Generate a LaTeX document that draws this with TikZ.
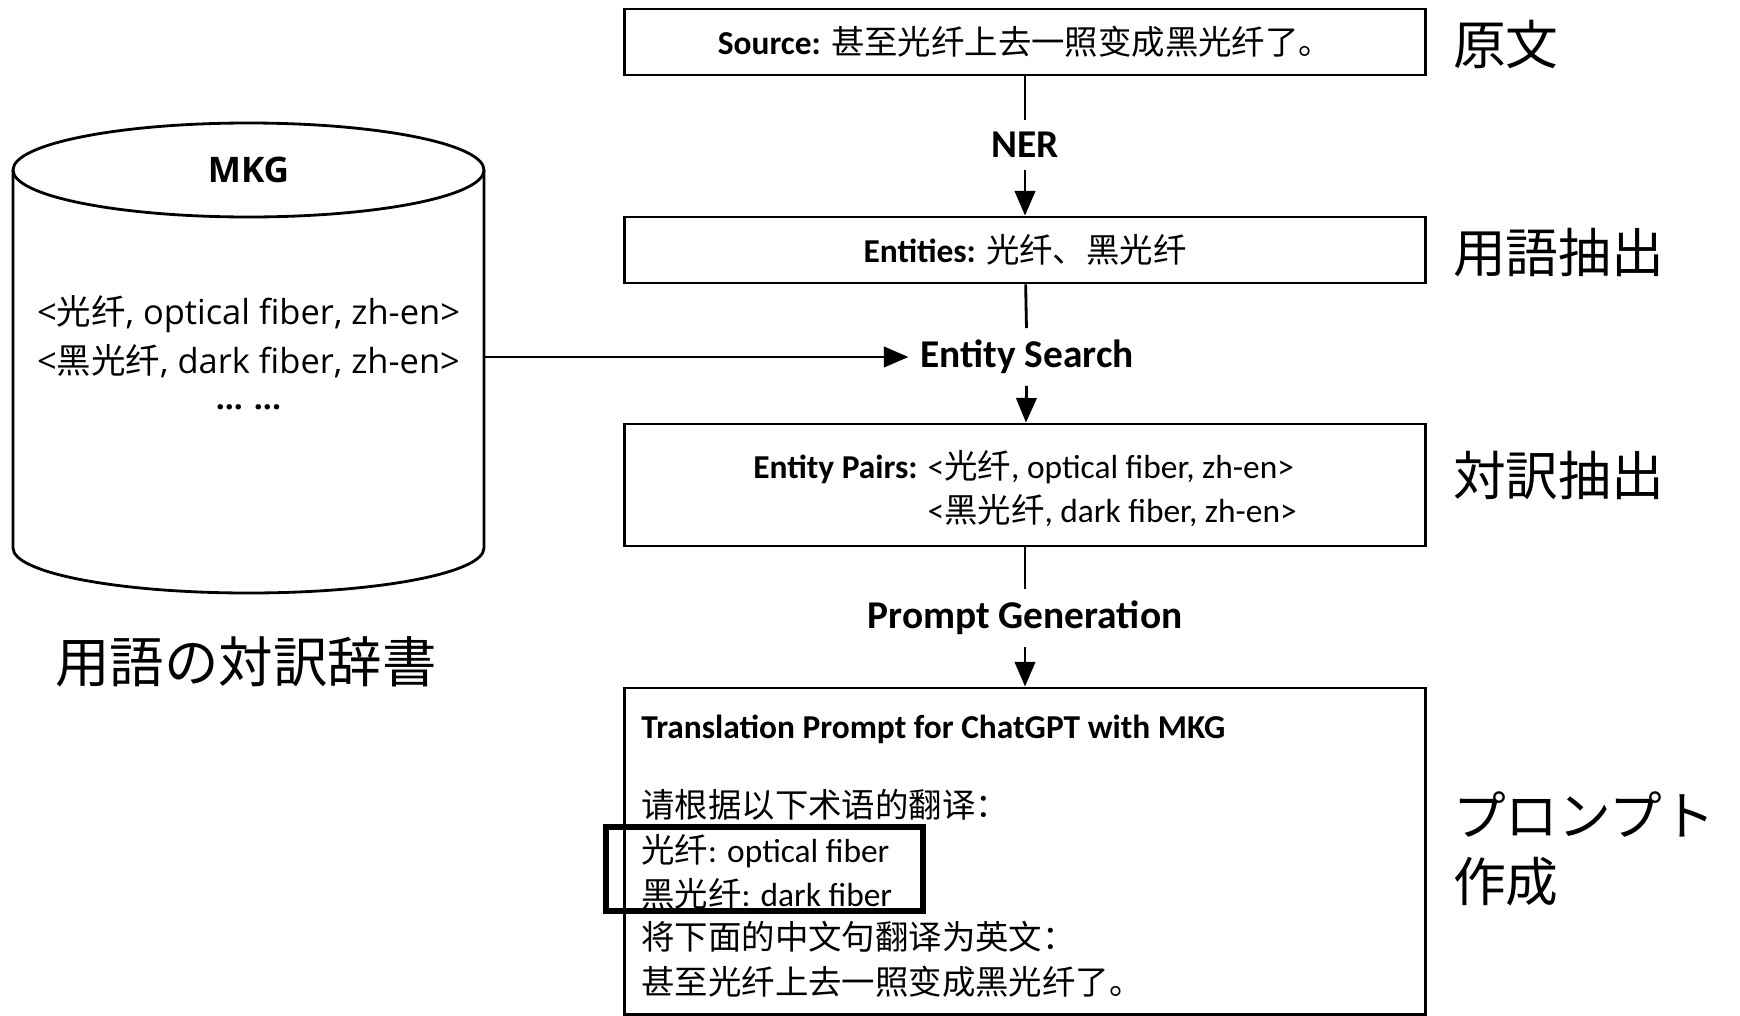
\documentclass[tikz,border=0pt]{standalone}
\usepackage{fontspec}
\setmainfont{Carlito}
\newfontfamily\zh{Noto Sans CJK SC}
\newfontfamily\jp{Noto Sans CJK JP}
\newfontfamily\seg{Open Sans}
\usetikzlibrary{arrows.meta,positioning}

\begin{document}
\begin{tikzpicture}[x=0.01cm,y=-0.01cm,->,>={Triangle[length=7pt,width=5.8pt]},thick,
	box node/.style={draw,rectangle,minimum width=8cm,inner sep=0pt,font=\fontsize{9.5}{12.5}\selectfont},
	step node/.style={font=\fontsize{11.2}{13}\selectfont\bfseries,inner sep=3pt},
	line node/.style={anchor=base west,inner sep=0pt,font=\fontsize{9.5}{12.5}\selectfont},
	db node/.style={font=\seg\fontsize{9.8}{12}\selectfont,inner sep=0pt},
	side node/.style={anchor=west,align=left,font=\jp\fontsize{15}{18.8}\selectfont}]
	\useasboundingbox (0,0) rectangle (1740,1015);

	% flow in the middle
	\node[box node,minimum height=0.66cm] (src) at (1025,42) {\textbf{Source:} {\zh 甚至光纤上去一照变成黑光纤了。}};
	\node[step node] (ner) at (1025,145) {NER};
	\node[box node,minimum height=0.66cm] (ent) at (1025,250) {\textbf{Entities:} {\zh 光纤、黑光纤}};
	\node[step node] (search) at (1027,357) {Entity Search};
	\node[box node,minimum height=1.22cm] (pairs) at (1025,485) {\raisebox{-2pt}[\height][\depth]{%
		\begin{tabular}{@{}l@{ }l@{}}
		\textbf{Entity Pairs:} & <{\zh 光纤}, optical fiber, zh-en>\\
		& <{\zh 黑光纤}, dark fiber, zh-en>
		\end{tabular}}};
	\node[step node] (gen) at (1025,618) {Prompt Generation};
	\node[box node,minimum height=3.26cm] (prompt) at (1025,851) {};

	% prompt text
	\node[line node] (p0) at (640,738) {\textbf{Translation Prompt for ChatGPT with MKG}};
	\node[line node] (p1) at (640,817) {\zh 请根据以下术语的翻译：};
	\node[line node] (p2) at (640,862) {{\zh 光纤}: optical fiber};
	\node[line node] (p3) at (640,906) {{\zh 黑光纤}: dark fiber};
	\node[line node] (p4) at (640,949) {\zh 将下面的中文句翻译为英文：};
	\node[line node] (p5) at (640,994) {\zh 甚至光纤上去一照变成黑光纤了。};
	\node[draw,line width=1.6pt,minimum width=3.17cm,minimum height=0.84cm] (hl) at (764.5,869) {};

	% the MKG store
	\draw[-] (13,170) -- (13,548) arc[start angle=180,end angle=0,x radius=235.5,y radius=45] -- (484,170);
	\draw[-] (248.5,170) ellipse [x radius=235.5,y radius=47];
	\node[font=\seg\bfseries\fontsize{10}{12}\selectfont] (mkg) at (248.5,170) {MKG};
	\node[db node] (d1) at (248.5,314) {<{\zh 光纤}, optical fiber, zh-en>};
	\node[db node] (d2) at (248.5,361) {<{\zh 黑光纤}, dark fiber, zh-en>};
	\node[db node,font=\seg\bfseries\fontsize{9}{11}\selectfont] (d3) at (248.5,407) {... ...};
	\coordinate (mkgout) at (484,357);
	\node[font=\jp\fontsize{15.5}{18}\selectfont] (dict) at (246,662) {用語の対訳辞書};

	% labels on the right
	\node[side node] (s1) at (1440,44) {原文};
	\node[side node] (s2) at (1440,253) {用語抽出};
	\node[side node] (s3) at (1440,475) {対訳抽出};
	\node[side node] (s4) at (1440,849) {プロンプト\\作成};

	\path[-]
	(src) edge (ner)
	(ent) edge (search)
	(pairs) edge (gen);
	\draw (ner) -- (ent);
	\draw (search) -- (pairs);
	\draw (gen) -- (prompt);
	\draw (mkgout) -- (search.west);
\end{tikzpicture}
\end{document}
